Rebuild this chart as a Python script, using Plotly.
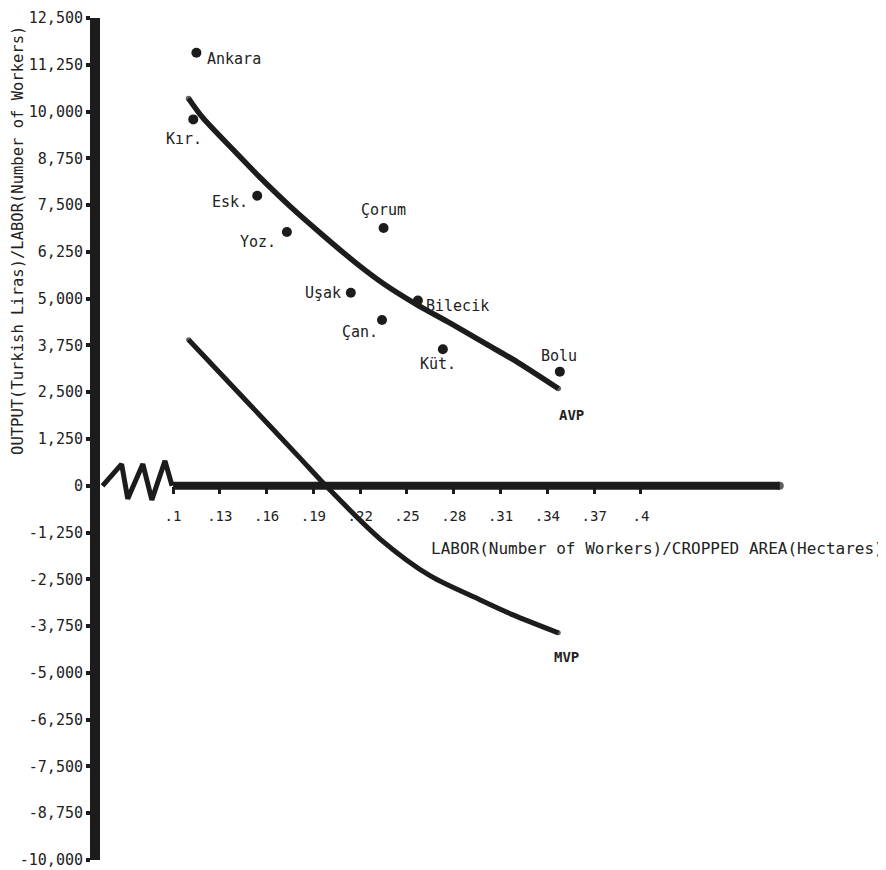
import numpy as np
import plotly.graph_objects as go

# ---------------- data ----------------
provinces = ["Ankara", "Kır.", "Esk.", "Yoz.", "Çorum", "Uşak", "Bilecik", "Çan.", "Küt.", "Bolu"]
labor_per_area = [0.115, 0.113, 0.154, 0.173, 0.235, 0.214, 0.257, 0.234, 0.273, 0.348]
output_per_labor = [11570, 9790, 7750, 6780, 6890, 5160, 4950, 4430, 3650, 3050]

avp_x = [0.110, 0.119, 0.139, 0.156, 0.175, 0.196, 0.218, 0.235, 0.256, 0.278, 0.299, 0.321, 0.347]
avp_y = [10350, 9840, 8960, 8230, 7470, 6700, 5930, 5400, 4850, 4340, 3830, 3300, 2600]

mvp_x = [0.110, 0.149, 0.181, 0.198, 0.233, 0.265, 0.297, 0.318, 0.347]
mvp_y = [3900, 2180, 760, 0, -1430, -2410, -3050, -3450, -3930]

y_tick_values = list(range(-10000, 12501, 1250))
y_tick_labels = [f"{v:,}" for v in y_tick_values]
x_tick_values = [0.10, 0.13, 0.16, 0.19, 0.22, 0.25, 0.28, 0.31, 0.34, 0.37, 0.40]
x_tick_labels = [".1", ".13", ".16", ".19", ".22", ".25", ".28", ".31", ".34", ".37", ".4"]

x_title = "LABOR(Number of Workers)/CROPPED AREA(Hectares)"
y_title = "OUTPUT(Turkish Liras)/LABOR(Number of Workers)"

# ---------------- style / layout ----------------
FONT = "DejaVu Sans Mono"
INK = "#1c1c1c"
TXT = "#222222"
X_RANGE = [0.0532, 0.5571]
Y_RANGE = [-10000, 12500]
AXIS_END = 0.489          # right end of the drawn x-axis bar
BREAK_START = 0.0548      # axis break zig-zag, between y axis and .1

# label placement: (xanchor, xshift, yshift)
label_place = {
    "Ankara": ("left", 9, -6),
    "Kır.": ("center", -9, -20),
    "Esk.": ("right", -7, -6),
    "Yoz.": ("right", -9, -10),
    "Çorum": ("center", 0, 18),
    "Uşak": ("right", -8, 0),
    "Bilecik": ("left", 6, -5),
    "Çan.": ("right", -2, -12),
    "Küt.": ("center", -5, -15),
    "Bolu": ("center", -1, 16),
}

fig = go.Figure()

# axis-break zig-zag (decorative), then the x axis bar
frac = np.array([0, 0.275, 0.363, 0.580, 0.709, 0.898, 1.0])
amp = np.array([0, 1.0, -0.6, 1.0, -0.65, 1.15, 0]) * 580
zz_x = BREAK_START + frac * (x_tick_values[0] - 0.0006 - BREAK_START)
fig.add_trace(go.Scatter(x=zz_x, y=amp, mode="lines",
                         line=dict(color=INK, width=5), hoverinfo="skip", showlegend=False))
fig.add_trace(go.Scatter(x=[x_tick_values[0], AXIS_END], y=[0, 0], mode="lines+markers",
                         line=dict(color=INK, width=8),
                         marker=dict(size=[0, 8], color=INK, line=dict(width=0)),
                         hoverinfo="skip", showlegend=False))


def end_caps(n, w):
    s = [0] * n
    s[0] = w
    s[-1] = w
    return s


fig.add_trace(go.Scatter(x=avp_x, y=avp_y, mode="lines+markers", name="AVP",
                         line=dict(color=INK, width=5.5, shape="spline", smoothing=0.8),
                         marker=dict(size=end_caps(len(avp_x), 5.5), color=INK, line=dict(width=0)),
                         showlegend=False))
fig.add_trace(go.Scatter(x=mvp_x, y=mvp_y, mode="lines+markers", name="MVP",
                         line=dict(color=INK, width=5, shape="spline", smoothing=0.8),
                         marker=dict(size=end_caps(len(mvp_x), 5), color=INK, line=dict(width=0)),
                         showlegend=False))

fig.add_trace(go.Scatter(x=labor_per_area, y=output_per_labor, mode="markers",
                         marker=dict(size=10, color=INK), text=provinces,
                         showlegend=False))

annotations = []
for name, xv, yv in zip(provinces, labor_per_area, output_per_labor):
    xa, xs, ys = label_place[name]
    annotations.append(dict(x=xv, y=yv, text=name, showarrow=False, xanchor=xa,
                            yanchor="middle", xshift=xs, yshift=ys,
                            font=dict(family=FONT, size=15, color=TXT)))

annotations.append(dict(x=avp_x[-1], y=avp_y[-1], text="<b>AVP</b>", showarrow=False,
                        xshift=13, yshift=-27,
                        font=dict(family=FONT, size=14, color=TXT)))
annotations.append(dict(x=mvp_x[-1], y=mvp_y[-1], text="<b>MVP</b>", showarrow=False,
                        xshift=8, yshift=-24,
                        font=dict(family=FONT, size=14, color=TXT)))

annotations.append(dict(xref="paper", yref="paper", x=0.4186, y=0.3705, text=x_title,
                        showarrow=False, xanchor="left", yanchor="middle",
                        font=dict(family=FONT, size=16, color=TXT)))
annotations.append(dict(xref="paper", yref="paper", x=-0.1035, y=0.736, text=y_title,
                        showarrow=False, textangle=-90, xanchor="center", yanchor="middle",
                        font=dict(family=FONT, size=15.5, color=TXT)))

fig.update_layout(
    width=878, height=862,
    margin=dict(l=92, r=0, t=10, b=10),
    paper_bgcolor="white", plot_bgcolor="white",
    showlegend=False,
    annotations=annotations,
    xaxis=dict(range=X_RANGE, anchor="free",
               position=(0 - Y_RANGE[0]) / (Y_RANGE[1] - Y_RANGE[0]),
               showline=False, showgrid=False, zeroline=False,
               ticks="outside", ticklen=7, tickwidth=3, tickcolor=INK,
               tickvals=x_tick_values, ticktext=x_tick_labels,
               ticklabelstandoff=10,
               tickfont=dict(family=FONT, size=14, color=TXT)),
    yaxis=dict(range=Y_RANGE, showline=True, linewidth=10, linecolor=INK,
               showgrid=False, zeroline=False,
               ticks="outside", ticklen=4, tickwidth=4, tickcolor=INK,
               tickvals=y_tick_values, ticktext=y_tick_labels,
               tickfont=dict(family=FONT, size=15, color=TXT)),
)

fig.write_html("out.html")
